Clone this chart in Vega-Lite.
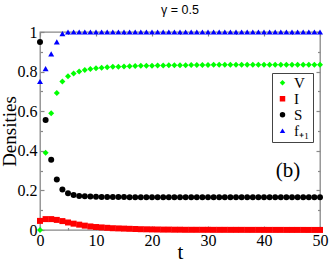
{
  "$schema": "https://vega.github.io/schema/vega-lite/v6.json",
  "width": 280,
  "height": 198,
  "autosize": {"type": "none"},
  "padding": {"left": 40, "top": 32, "right": 12, "bottom": 32},
  "background": "white",
  "title": {"text": "γ = 0.5", "font": "Liberation Sans", "fontSize": 12.5, "fontWeight": "normal", "color": "black", "offset": 8, "anchor": "middle"},
  "config": {
    "view": {"stroke": "#888", "strokeWidth": 1.3},
    "axis": {"grid": false, "domain": false, "tickColor": "#888", "tickWidth": 1.2, "labelColor": "black", "labelFont": "Liberation Serif", "labelFontSize": 16, "titleFont": "Liberation Serif", "titleFontWeight": "normal", "titleColor": "black"}
  },
  "datasets": {
    "d": [
      {"t":0,"s":"V","v":0},{"t":1,"s":"V","v":0.39},{"t":2,"s":"V","v":0.59},{"t":3,"s":"V","v":0.692},{"t":4,"s":"V","v":0.75},{"t":5,"s":"V","v":0.776},{"t":6,"s":"V","v":0.791},{"t":7,"s":"V","v":0.801},{"t":8,"s":"V","v":0.808},{"t":9,"s":"V","v":0.813},{"t":10,"s":"V","v":0.817},{"t":11,"s":"V","v":0.82},{"t":12,"s":"V","v":0.822},{"t":13,"s":"V","v":0.824},{"t":14,"s":"V","v":0.825},{"t":15,"s":"V","v":0.826},{"t":16,"s":"V","v":0.827},{"t":17,"s":"V","v":0.828},{"t":18,"s":"V","v":0.829},{"t":19,"s":"V","v":0.8295},{"t":20,"s":"V","v":0.83},{"t":21,"s":"V","v":0.8305},{"t":22,"s":"V","v":0.831},{"t":23,"s":"V","v":0.8315},{"t":24,"s":"V","v":0.832},{"t":25,"s":"V","v":0.8323},{"t":26,"s":"V","v":0.8326},{"t":27,"s":"V","v":0.8329},{"t":28,"s":"V","v":0.8332},{"t":29,"s":"V","v":0.8335},{"t":30,"s":"V","v":0.8337},{"t":31,"s":"V","v":0.834},{"t":32,"s":"V","v":0.834},{"t":33,"s":"V","v":0.8342},{"t":34,"s":"V","v":0.8344},{"t":35,"s":"V","v":0.8345},{"t":36,"s":"V","v":0.8346},{"t":37,"s":"V","v":0.8347},{"t":38,"s":"V","v":0.8348},{"t":39,"s":"V","v":0.8349},{"t":40,"s":"V","v":0.835},{"t":41,"s":"V","v":0.835},{"t":42,"s":"V","v":0.835},{"t":43,"s":"V","v":0.835},{"t":44,"s":"V","v":0.835},{"t":45,"s":"V","v":0.835},{"t":46,"s":"V","v":0.835},{"t":47,"s":"V","v":0.835},{"t":48,"s":"V","v":0.835},{"t":49,"s":"V","v":0.835},{"t":50,"s":"V","v":0.835},
      {"t":0,"s":"I","v":0.046},{"t":1,"s":"I","v":0.055},{"t":2,"s":"I","v":0.055},{"t":3,"s":"I","v":0.051},{"t":4,"s":"I","v":0.045},{"t":5,"s":"I","v":0.038},{"t":6,"s":"I","v":0.032},{"t":7,"s":"I","v":0.027},{"t":8,"s":"I","v":0.022},{"t":9,"s":"I","v":0.018},{"t":10,"s":"I","v":0.015},{"t":11,"s":"I","v":0.013},{"t":12,"s":"I","v":0.011},{"t":13,"s":"I","v":0.009},{"t":14,"s":"I","v":0.008},{"t":15,"s":"I","v":0.007},{"t":16,"s":"I","v":0.006},{"t":17,"s":"I","v":0.005},{"t":18,"s":"I","v":0.004},{"t":19,"s":"I","v":0.0035},{"t":20,"s":"I","v":0.003},{"t":21,"s":"I","v":0.0025},{"t":22,"s":"I","v":0.002},{"t":23,"s":"I","v":0.002},{"t":24,"s":"I","v":0.0015},{"t":25,"s":"I","v":0.0015},{"t":26,"s":"I","v":0.001},{"t":27,"s":"I","v":0.001},{"t":28,"s":"I","v":0.001},{"t":29,"s":"I","v":0.001},{"t":30,"s":"I","v":0.001},{"t":31,"s":"I","v":0.0008},{"t":32,"s":"I","v":0.0008},{"t":33,"s":"I","v":0.0008},{"t":34,"s":"I","v":0.0007},{"t":35,"s":"I","v":0.0007},{"t":36,"s":"I","v":0.0007},{"t":37,"s":"I","v":0.0006},{"t":38,"s":"I","v":0.0006},{"t":39,"s":"I","v":0.0006},{"t":40,"s":"I","v":0.0005},{"t":41,"s":"I","v":0.0005},{"t":42,"s":"I","v":0.0005},{"t":43,"s":"I","v":0.0005},{"t":44,"s":"I","v":0.0004},{"t":45,"s":"I","v":0.0004},{"t":46,"s":"I","v":0.0004},{"t":47,"s":"I","v":0.0004},{"t":48,"s":"I","v":0.0003},{"t":49,"s":"I","v":0.0003},{"t":50,"s":"I","v":0.0003},
      {"t":0,"s":"S","v":0.95},{"t":1,"s":"S","v":0.555},{"t":2,"s":"S","v":0.355},{"t":3,"s":"S","v":0.255},{"t":4,"s":"S","v":0.205},{"t":5,"s":"S","v":0.186},{"t":6,"s":"S","v":0.177},{"t":7,"s":"S","v":0.172},{"t":8,"s":"S","v":0.17},{"t":9,"s":"S","v":0.169},{"t":10,"s":"S","v":0.168},{"t":11,"s":"S","v":0.167},{"t":12,"s":"S","v":0.167},{"t":13,"s":"S","v":0.1665},{"t":14,"s":"S","v":0.1665},{"t":15,"s":"S","v":0.1665},{"t":16,"s":"S","v":0.166},{"t":17,"s":"S","v":0.166},{"t":18,"s":"S","v":0.166},{"t":19,"s":"S","v":0.166},{"t":20,"s":"S","v":0.166},{"t":21,"s":"S","v":0.166},{"t":22,"s":"S","v":0.166},{"t":23,"s":"S","v":0.166},{"t":24,"s":"S","v":0.166},{"t":25,"s":"S","v":0.166},{"t":26,"s":"S","v":0.166},{"t":27,"s":"S","v":0.166},{"t":28,"s":"S","v":0.166},{"t":29,"s":"S","v":0.166},{"t":30,"s":"S","v":0.166},{"t":31,"s":"S","v":0.166},{"t":32,"s":"S","v":0.166},{"t":33,"s":"S","v":0.166},{"t":34,"s":"S","v":0.166},{"t":35,"s":"S","v":0.166},{"t":36,"s":"S","v":0.166},{"t":37,"s":"S","v":0.166},{"t":38,"s":"S","v":0.166},{"t":39,"s":"S","v":0.166},{"t":40,"s":"S","v":0.166},{"t":41,"s":"S","v":0.166},{"t":42,"s":"S","v":0.166},{"t":43,"s":"S","v":0.166},{"t":44,"s":"S","v":0.166},{"t":45,"s":"S","v":0.166},{"t":46,"s":"S","v":0.166},{"t":47,"s":"S","v":0.166},{"t":48,"s":"S","v":0.166},{"t":49,"s":"S","v":0.166},{"t":50,"s":"S","v":0.166},
      {"t":0,"s":"f₊₁","v":0.75},{"t":1,"s":"f₊₁","v":0.815},{"t":2,"s":"f₊₁","v":0.89},{"t":3,"s":"f₊₁","v":0.95},{"t":4,"s":"f₊₁","v":0.992},{"t":5,"s":"f₊₁","v":1},{"t":6,"s":"f₊₁","v":1},{"t":7,"s":"f₊₁","v":1},{"t":8,"s":"f₊₁","v":1},{"t":9,"s":"f₊₁","v":1},{"t":10,"s":"f₊₁","v":1},{"t":11,"s":"f₊₁","v":1},{"t":12,"s":"f₊₁","v":1},{"t":13,"s":"f₊₁","v":1},{"t":14,"s":"f₊₁","v":1},{"t":15,"s":"f₊₁","v":1},{"t":16,"s":"f₊₁","v":1},{"t":17,"s":"f₊₁","v":1},{"t":18,"s":"f₊₁","v":1},{"t":19,"s":"f₊₁","v":1},{"t":20,"s":"f₊₁","v":1},{"t":21,"s":"f₊₁","v":1},{"t":22,"s":"f₊₁","v":1},{"t":23,"s":"f₊₁","v":1},{"t":24,"s":"f₊₁","v":1},{"t":25,"s":"f₊₁","v":1},{"t":26,"s":"f₊₁","v":1},{"t":27,"s":"f₊₁","v":1},{"t":28,"s":"f₊₁","v":1},{"t":29,"s":"f₊₁","v":1},{"t":30,"s":"f₊₁","v":1},{"t":31,"s":"f₊₁","v":1},{"t":32,"s":"f₊₁","v":1},{"t":33,"s":"f₊₁","v":1},{"t":34,"s":"f₊₁","v":1},{"t":35,"s":"f₊₁","v":1},{"t":36,"s":"f₊₁","v":1},{"t":37,"s":"f₊₁","v":1},{"t":38,"s":"f₊₁","v":1},{"t":39,"s":"f₊₁","v":1},{"t":40,"s":"f₊₁","v":1},{"t":41,"s":"f₊₁","v":1},{"t":42,"s":"f₊₁","v":1},{"t":43,"s":"f₊₁","v":1},{"t":44,"s":"f₊₁","v":1},{"t":45,"s":"f₊₁","v":1},{"t":46,"s":"f₊₁","v":1},{"t":47,"s":"f₊₁","v":1},{"t":48,"s":"f₊₁","v":1},{"t":49,"s":"f₊₁","v":1},{"t":50,"s":"f₊₁","v":1}
    ],
    "lbl": [{"t": 44.3, "v": 0.3, "txt": "(b)"}]
  },
  "resolve": {"axis": {"x": "independent", "y": "independent"}},
  "layer": [
    {
      "data": {"name": "d"},
      "mark": {"type": "point", "filled": true, "opacity": 1, "size": 36, "clip": false},
      "encoding": {
        "x": {"field": "t", "type": "quantitative", "scale": {"domain": [0, 50], "nice": false},
          "axis": {"orient": "bottom", "title": "t", "titleFontSize": 21, "titlePadding": -7, "values": [0,5,10,15,20,25,30,35,40,45,50], "labelExpr": "datum.value % 10 === 0 ? '' + datum.value : ''", "tickSize": {"condition": {"test": "datum.value % 10 === 0", "value": -4}, "value": -2.5}, "labelPadding": 6, "labelFlush": false}},
        "y": {"field": "v", "type": "quantitative", "scale": {"domain": [0, 1], "nice": false},
          "axis": {"orient": "left", "title": "Densities", "titleFontSize": 19, "titlePadding": -2, "values": [0,0.1,0.2,0.3,0.4,0.5,0.6,0.7,0.8,0.9,1], "labelExpr": "round(datum.value*10) % 2 === 0 ? '' + datum.value : ''", "tickSize": {"condition": {"test": "round(datum.value*10) % 2 === 0", "value": -4}, "value": -2.5}, "labelPadding": 7, "labelFlush": false}},
        "color": {"field": "s", "type": "nominal", "sort": null, "scale": {"domain": ["V", "I", "S", "f₊₁"], "range": ["#00ff00", "#ff0000", "#000000", "#0000ff"]},
          "legend": {"title": null, "orient": "none", "legendX": 232, "legendY": 41, "strokeColor": "#444", "padding": 3, "labelFont": "Liberation Serif", "labelFontSize": 15, "labelColor": "black", "rowPadding": 0, "clipHeight": 13.5, "symbolSize": 30, "symbolStrokeWidth": 0, "labelOffset": 4}},
        "shape": {"field": "s", "type": "nominal", "sort": null, "scale": {"domain": ["V", "I", "S", "f₊₁"], "range": ["diamond", "square", "circle", "triangle-up"]}, "legend": null}
      }
    },
    {
      "data": {"name": "lbl"},
      "mark": {"type": "text", "font": "Liberation Serif", "fontSize": 21, "color": "black"},
      "encoding": {
        "x": {"field": "t", "type": "quantitative", "axis": {"orient": "top", "title": null, "labels": false, "values": [0,5,10,15,20,25,30,35,40,45,50], "tickSize": {"condition": {"test": "datum.value % 10 === 0", "value": -4}, "value": -2.5}}},
        "y": {"field": "v", "type": "quantitative", "axis": {"orient": "right", "title": null, "labels": false, "values": [0,0.1,0.2,0.3,0.4,0.5,0.6,0.7,0.8,0.9,1], "tickSize": {"condition": {"test": "round(datum.value*10) % 2 === 0", "value": -4}, "value": -2.5}}},
        "text": {"field": "txt"}
      }
    }
  ]
}
